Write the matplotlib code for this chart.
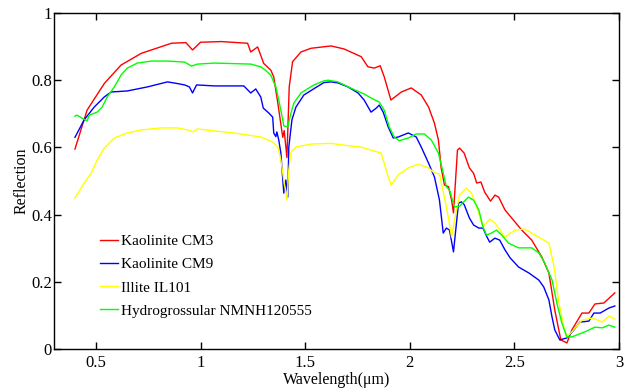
import matplotlib
matplotlib.use("Agg")
import matplotlib.pyplot as plt

plt.rcParams['font.family'] = ['Liberation Serif', 'DejaVu Serif']

# Kaolinite CM3 (red)
red_x = [0.40, 0.458, 0.54, 0.62, 0.717, 0.861, 0.93, 0.962, 1.0, 1.10, 1.225, 1.24, 1.273, 1.302,
         1.336, 1.35, 1.37, 1.393, 1.40, 1.413, 1.424, 1.44, 1.48, 1.528, 1.624, 1.686, 1.768,
         1.80, 1.83, 1.859, 1.878, 1.91, 1.96, 2.007, 2.055, 2.09, 2.118, 2.137, 2.15, 2.166,
         2.185, 2.20, 2.209, 2.228, 2.238, 2.26, 2.285, 2.305, 2.32, 2.34, 2.358, 2.386, 2.407,
         2.425, 2.455, 2.487, 2.535, 2.583, 2.631, 2.665, 2.693, 2.722, 2.751, 2.775, 2.823,
         2.856, 2.885, 2.928, 2.98]
red_y = [0.595, 0.711, 0.79, 0.845, 0.88, 0.91, 0.912, 0.89, 0.913, 0.915, 0.91, 0.884, 0.899, 0.85,
         0.83, 0.81, 0.73, 0.63, 0.65, 0.57, 0.78, 0.855, 0.884, 0.895, 0.902, 0.893, 0.87,
         0.84, 0.836, 0.843, 0.81, 0.741, 0.765, 0.777, 0.756, 0.72, 0.672, 0.622, 0.54, 0.488,
         0.483, 0.443, 0.405, 0.592, 0.598, 0.583, 0.539, 0.523, 0.494, 0.497, 0.467, 0.44, 0.458,
         0.452, 0.414, 0.39, 0.354, 0.324, 0.274, 0.226, 0.116, 0.027, 0.018, 0.057, 0.107,
         0.107, 0.134, 0.137, 0.167]

# Kaolinite CM9 (blue)
blue_x = [0.40, 0.444, 0.492, 0.54, 0.573, 0.65, 0.746, 0.842, 0.89, 0.924, 0.947, 0.962, 0.981,
          1.067, 1.207, 1.24, 1.264, 1.288, 1.30, 1.327, 1.345, 1.35, 1.36, 1.365, 1.374, 1.384,
          1.398, 1.408, 1.417, 1.422, 1.437, 1.456, 1.494, 1.561, 1.59, 1.624, 1.657, 1.705,
          1.753, 1.782, 1.815, 1.84, 1.854, 1.873, 1.897, 1.921, 1.945, 1.993, 2.031, 2.055,
          2.09, 2.118, 2.142, 2.16, 2.175, 2.19, 2.209, 2.233, 2.247, 2.26, 2.285, 2.305, 2.33,
          2.35, 2.367, 2.382, 2.407, 2.43, 2.455, 2.48, 2.52, 2.57, 2.617, 2.64, 2.665, 2.68,
          2.693, 2.717, 2.751, 2.785, 2.813, 2.856, 2.88, 2.91, 2.952, 2.98]
blue_y = [0.63, 0.682, 0.72, 0.75, 0.765, 0.768, 0.78, 0.795, 0.79, 0.786, 0.78, 0.762, 0.786,
          0.783, 0.783, 0.762, 0.774, 0.75, 0.717, 0.702, 0.69, 0.643, 0.632, 0.646, 0.622, 0.583,
          0.464, 0.503, 0.452, 0.601, 0.682, 0.72, 0.756, 0.782, 0.793, 0.795, 0.792, 0.78,
          0.762, 0.741, 0.705, 0.717, 0.726, 0.705, 0.661, 0.628, 0.631, 0.643, 0.631, 0.601,
          0.553, 0.512, 0.443, 0.345, 0.36, 0.354, 0.289, 0.434, 0.438, 0.43, 0.39, 0.369, 0.36,
          0.36, 0.336, 0.318, 0.33, 0.324, 0.295, 0.271, 0.244, 0.226, 0.205, 0.185, 0.146, 0.095,
          0.057, 0.027, 0.033, 0.057, 0.08, 0.083, 0.107, 0.107, 0.122, 0.128]

# Illite IL101 (yellow)
yel_x = [0.40, 0.444, 0.478, 0.506, 0.54, 0.588, 0.65, 0.717, 0.813, 0.89, 0.938, 0.962, 0.986,
         1.067, 1.159, 1.288, 1.345, 1.37, 1.384, 1.398, 1.413, 1.422, 1.432, 1.456, 1.528, 1.624,
         1.72, 1.768, 1.815, 1.863, 1.878, 1.897, 1.911, 1.945, 1.993, 2.041, 2.089, 2.118, 2.142,
         2.166, 2.185, 2.20, 2.214, 2.238, 2.27, 2.295, 2.32, 2.35, 2.382, 2.407, 2.455, 2.503,
         2.55, 2.583, 2.665, 2.69, 2.713, 2.737, 2.751, 2.775, 2.823, 2.871, 2.90, 2.92, 2.952, 2.98]
yel_y = [0.449, 0.494, 0.524, 0.562, 0.598, 0.628, 0.643, 0.652, 0.658, 0.658, 0.652, 0.646, 0.655,
         0.649, 0.643, 0.631, 0.616, 0.601, 0.562, 0.503, 0.443, 0.533, 0.586, 0.601, 0.61, 0.612,
         0.604, 0.601, 0.592, 0.583, 0.553, 0.512, 0.488, 0.518, 0.539, 0.55, 0.539, 0.524, 0.521,
         0.45, 0.39, 0.333, 0.384, 0.458, 0.479, 0.464, 0.423, 0.363, 0.387, 0.375, 0.333, 0.354,
         0.357, 0.345, 0.315, 0.244, 0.137, 0.065, 0.036, 0.051, 0.086, 0.092, 0.086, 0.08, 0.098, 0.089]

# Hydrogrossular NMNH120555 (green)
grn_x = [0.40, 0.41, 0.434, 0.458, 0.468, 0.506, 0.53, 0.554, 0.588, 0.62, 0.65, 0.698, 0.765,
         0.842, 0.924, 0.957, 0.986, 1.067, 1.24, 1.288, 1.31, 1.336, 1.36, 1.374, 1.393, 1.398,
         1.417, 1.432, 1.446, 1.48, 1.542, 1.59, 1.61, 1.657, 1.72, 1.782, 1.815, 1.854, 1.878,
         1.902, 1.926, 1.95, 1.993, 2.031, 2.07, 2.103, 2.137, 2.16, 2.175, 2.19, 2.214, 2.238,
         2.28, 2.305, 2.33, 2.35, 2.367, 2.39, 2.415, 2.44, 2.472, 2.52, 2.583, 2.617, 2.645,
         2.68, 2.703, 2.727, 2.751, 2.775, 2.837, 2.885, 2.92, 2.952, 2.98]
grn_y = [0.693, 0.696, 0.687, 0.679, 0.696, 0.705, 0.72, 0.75, 0.78, 0.815, 0.836, 0.851, 0.857,
         0.857, 0.854, 0.842, 0.848, 0.851, 0.848, 0.84, 0.83, 0.815, 0.78, 0.741, 0.682, 0.664,
         0.661, 0.702, 0.732, 0.762, 0.786, 0.798, 0.8, 0.795, 0.776, 0.759, 0.747, 0.735, 0.711,
         0.661, 0.631, 0.62, 0.628, 0.64, 0.64, 0.622, 0.583, 0.524, 0.483, 0.473, 0.423, 0.425,
         0.452, 0.443, 0.414, 0.363, 0.339, 0.345, 0.354, 0.339, 0.315, 0.301, 0.301, 0.286, 0.256,
         0.205, 0.137, 0.077, 0.036, 0.036, 0.051, 0.065, 0.063, 0.071, 0.065]

labels = ["Kaolinite CM3", "Kaolinite CM9", "Illite IL101", "Hydrogrossular NMNH120555"]
xticks = [0.5, 1, 1.5, 2, 2.5, 3]
xticklabels = ["0.5", "1", "1.5", "2", "2.5", "3"]
yticks = [0, 0.2, 0.4, 0.6, 0.8, 1]
yticklabels = ["0", "0.2", "0.4", "0.6", "0.8", "1"]

fig = plt.figure(figsize=(6.29, 3.92), dpi=100)
ax = fig.add_axes([0.0859, 0.1097, 0.8982, 0.8571])

ax.plot(red_x, red_y, color="#ff0000", lw=1.0, label=labels[0])
ax.plot(blue_x, blue_y, color="#0000ff", lw=1.0, label=labels[1])
ax.plot(yel_x, yel_y, color="#ffff00", lw=1.0, label=labels[2])
ax.plot(grn_x, grn_y, color="#00ff00", lw=1.0, label=labels[3])

ax.set_xlim(0.3, 3.0)
ax.set_ylim(0, 1)
ax.set_xticks(xticks)
ax.set_xticklabels(xticklabels)
ax.set_yticks(yticks)
ax.set_yticklabels(yticklabels)
ax.tick_params(direction="in", top=True, right=True, length=5, width=1, labelsize=12)
ax.tick_params(axis="y", pad=1.5)
ax.tick_params(axis="x", pad=4)
for s in ax.spines.values():
    s.set_linewidth(1.0)

ax.set_xlabel("Wavelength(μm)", fontsize=11.5, labelpad=1)
ax.set_ylabel("Reflection", fontsize=11.5, labelpad=1)

leg = ax.legend(loc="lower left", bbox_to_anchor=(0.07, 0.075), frameon=False, fontsize=11,
                handlelength=1.2, handletextpad=0.2, labelspacing=0.62, borderaxespad=0)

fig.savefig("out.png", dpi=100)
